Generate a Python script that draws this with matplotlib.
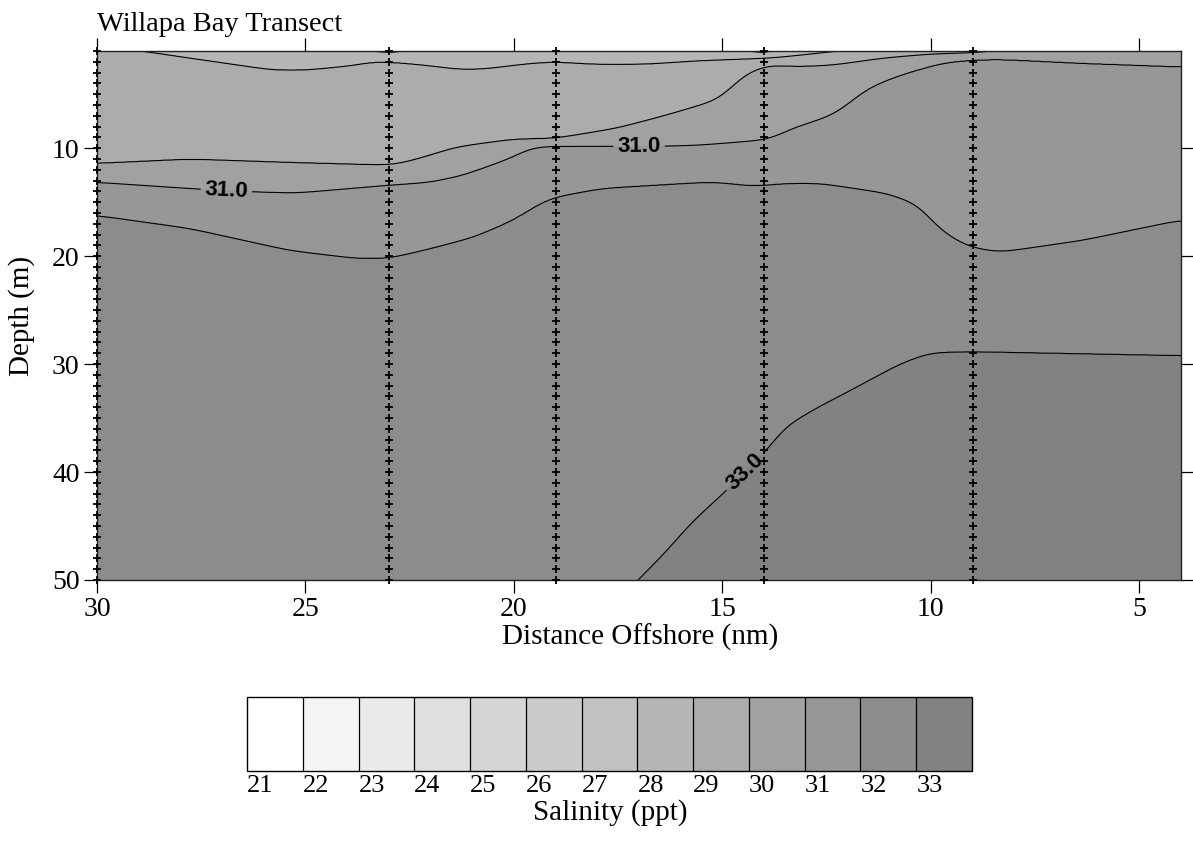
import numpy as np
import matplotlib
matplotlib.use("Agg")
import matplotlib.pyplot as plt
from matplotlib.colors import ListedColormap, BoundaryNorm
from matplotlib.cm import ScalarMappable

plt.rcParams['font.family'] = ['Liberation Serif', 'DejaVu Serif']

# ---------------- data ----------------
title = "Willapa Bay Transect"
x_label = "Distance Offshore (nm)"
y_label = "Depth (m)"
cbar_label = "Salinity (ppt)"

salinity_classes = [21, 22, 23, 24, 25, 26, 27, 28, 29, 30, 31, 32, 33]
class_grays = [255, 245, 235, 224, 214, 203, 193, 182, 172, 161, 151, 140, 130]

stations_nm = [30, 23, 19, 14, 9]
sample_depths = list(range(1, 51))

x_ticks = [30, 25, 20, 15, 10, 5]
y_ticks = [10, 20, 30, 40, 50]

# isohaline depths (distance offshore nm, depth m)
iso28_x = [30, 23.8, 23.5, 23.0, 22.55, 22.3, 14.7, 14.45, 14.05, 13.75, 13.5, 4]
iso28_d = [0.0, 0.7, 1.0, 1.15, 1.0, 0.7, 0.7, 1.0, 1.15, 1.0, 0.7, 0.0]

iso29_x = [30, 28.9, 27.77, 25.78, 24.96, 23.77, 23.45, 23.02, 22.66, 21.77, 21.37,
           20.74, 19.62, 19.02, 18.58, 18.01, 16.81, 15.61, 14.03, 13.62, 12.9, 12.25, 11.0, 4.0]
iso29_d = [0.6, 1.0, 1.65, 2.76, 2.76, 2.30, 1.99, 2.02, 2.11, 2.46, 2.70,
           2.67, 2.14, 1.99, 2.11, 2.23, 2.21, 1.9, 1.68, 1.58, 1.28, 1.0, 0.6, 0.3]

iso30_x = [30, 27.77, 25.37, 23.02, 22.66, 22.01, 21.77, 21.37, 20.02, 19.02, 18.82, 17.53,
           16.43, 15.13, 14.82, 14.58, 14.03, 13.62, 13.31, 12.35, 11.15, 10.02, 9.02, 8.51, 7.0, 4.0]
iso30_d = [11.42, 11.02, 11.33, 11.58, 11.37, 10.65, 10.35, 9.88, 9.17, 9.10, 8.98, 8.15,
           7.03, 5.55, 4.62, 3.39, 2.39, 2.30, 2.46, 2.30, 1.65, 1.28, 1.16, 1.0, 0.6, 0.4]

iso31_x = [30, 27.77, 26.16, 25.2, 23.05, 22.01, 21.22, 20.02, 19.6, 19.02, 17.7, 16.4, 15.54,
           14.03, 13.69, 13.45, 12.35, 12.11, 11.53, 10.74, 9.71, 9.02, 8.35, 6.36, 4.03]
iso31_d = [13.16, 13.74, 14.06, 14.15, 13.44, 13.16, 12.51, 10.84, 9.91, 9.82, 9.82, 9.82, 9.72,
           9.26, 8.95, 8.33, 6.94, 6.29, 4.46, 3.23, 2.09, 1.84, 1.77, 2.14, 2.46]

iso32_x = [30, 27.77, 25.37, 23.77, 23.02, 22.18, 20.98, 20.02, 19.38, 19.06, 17.87, 15.47,
           15.06, 14.27, 13.45, 12.66, 11.05, 10.26, 9.86, 9.47, 9.06, 8.35, 6.36, 4.03]
iso32_d = [16.22, 17.43, 19.47, 20.21, 20.21, 19.47, 18.26, 16.68, 15.11, 14.55, 13.71, 13.16,
           13.16, 13.53, 13.25, 13.25, 14.18, 15.29, 17.33, 18.36, 19.19, 19.65, 18.54, 16.68]

iso33_x = [30, 18.0, 17.1, 16.33, 15.78, 14.99, 13.93, 13.55, 12.73, 11.94, 10.74, 10.02, 9.06, 4.0]
iso33_d = [62.0, 53.8, 50.3, 47.3, 44.8, 42.02, 38.03, 35.9, 34.04, 32.46, 29.96, 28.94, 28.84, 29.21]

iso_levels = [28, 29, 30, 31, 32, 33]
labeled_levels = [31, 33]
label_positions = [(26.9, 14.1), (17.0, 9.8), (14.45, 40.0)]

# ---------------- build salinity field from isohalines ----------------
iso_x = [iso28_x, iso29_x, iso30_x, iso31_x, iso32_x, iso33_x]
iso_d = [iso28_d, iso29_d, iso30_d, iso31_d, iso32_d, iso33_d]

xg = np.linspace(4, 30, 1041)
zg = np.linspace(0.5, 50.5, 1001)
dx = xg[1] - xg[0]
sig = 0.25 / dx
kx = np.arange(-int(4 * sig), int(4 * sig) + 1)
kern = np.exp(-0.5 * (kx / sig) ** 2)
kern /= kern.sum()
npad = kx.size // 2

D = []
for i, (xs, ds) in enumerate(zip(iso_x, iso_d)):
    xs = np.asarray(xs, float); ds = np.asarray(ds, float)
    o = np.argsort(xs)
    row = np.interp(xg, xs[o], ds[o])
    if i > 0:
        padded = np.concatenate([np.full(npad, row[0]), row, np.full(npad, row[-1])])
        row = np.convolve(padded, kern, mode='valid')
    D.append(row)
D = np.array(D)
S = np.empty((zg.size, xg.size))
vals = np.array([27.0] + iso_levels + [34.0], float)
for j in range(xg.size):
    dcol = np.concatenate([[D[0, j] - 5.0], D[:, j], [D[-1, j] + 40.0]])
    dcol = np.maximum.accumulate(dcol + np.arange(dcol.size) * 1e-6)
    S[:, j] = np.interp(zg, dcol, vals)

# ---------------- figure ----------------
W, H = 1193, 844
fig = plt.figure(figsize=(W / 100, H / 100), dpi=100)
fig.patch.set_facecolor('white')

def fx(px):
    return px / W

def fy(py):
    return 1 - py / H

ax = fig.add_axes([fx(97), fy(580), fx(1181) - fx(97), fy(51) - fy(580)])

colors = [(g / 255, g / 255, g / 255) for g in class_grays]
cmap = ListedColormap(colors)
bounds = salinity_classes + [salinity_classes[-1] + 1]
norm = BoundaryNorm(bounds, cmap.N)

ax.contourf(xg, zg, S, levels=bounds, cmap=cmap, norm=norm)
plain_levels = [l for l in iso_levels if l not in labeled_levels]
ax.contour(xg, zg, S, levels=plain_levels, colors='k', linewidths=0.8)
cs_lab = ax.contour(xg, zg, S, levels=labeled_levels, colors='k', linewidths=0.8)

with plt.rc_context({'font.family': ['Liberation Sans', 'DejaVu Sans'], 'font.weight': 'bold'}):
    ax.clabel(cs_lab, manual=label_positions, fmt='%.1f',
              fontsize=16, inline=True, inline_spacing=4)

for s in stations_nm:
    ax.plot(np.full(len(sample_depths), s), sample_depths, ls='none', marker='+',
            ms=6, mew=1.3, color='k', clip_on=False, zorder=6)

ax.set_xlim(30, 4)
ax.set_ylim(50, 1)
ax.set_xticks(x_ticks)
ax.set_yticks(y_ticks)
ax.set_xticklabels([str(t) for t in x_ticks])
ax.set_yticklabels([str(t) for t in y_ticks])
ax.tick_params(direction='out', length=9.5, width=0.9, top=True, right=True,
               labeltop=False, labelright=False, labelsize=20, pad=3)
for sp in ax.spines.values():
    sp.set_linewidth(1.0)
    sp.set_color('#222222')

fig.text(fx(97), fy(31), title, ha='left', va='baseline', fontsize=20.5)
fig.text(fx(640), fy(645), x_label, ha='center', va='baseline', fontsize=21)
fig.text(fx(22), fy(316), y_label, ha='center', va='center', rotation=90, fontsize=21)

# colorbar
cax = fig.add_axes([fx(247), fy(771), fx(972) - fx(247), fy(697) - fy(771)])
cb = fig.colorbar(ScalarMappable(norm=norm, cmap=cmap), cax=cax, orientation='horizontal',
                  drawedges=True, ticks=salinity_classes)
cb.outline.set_linewidth(1.0)
cb.dividers.set_color('k')
cb.dividers.set_linewidth(0.9)
cax.minorticks_off()
cax.tick_params(which='both', length=0, labelsize=19, pad=3)
cax.set_xticklabels([str(v) for v in salinity_classes])
for lab in cax.get_xticklabels():
    lab.set_horizontalalignment('left')
fig.text(fx(610), fy(820), cbar_label, ha='center', va='baseline', fontsize=21)

fig.savefig('out.png', dpi=100, facecolor='white')
